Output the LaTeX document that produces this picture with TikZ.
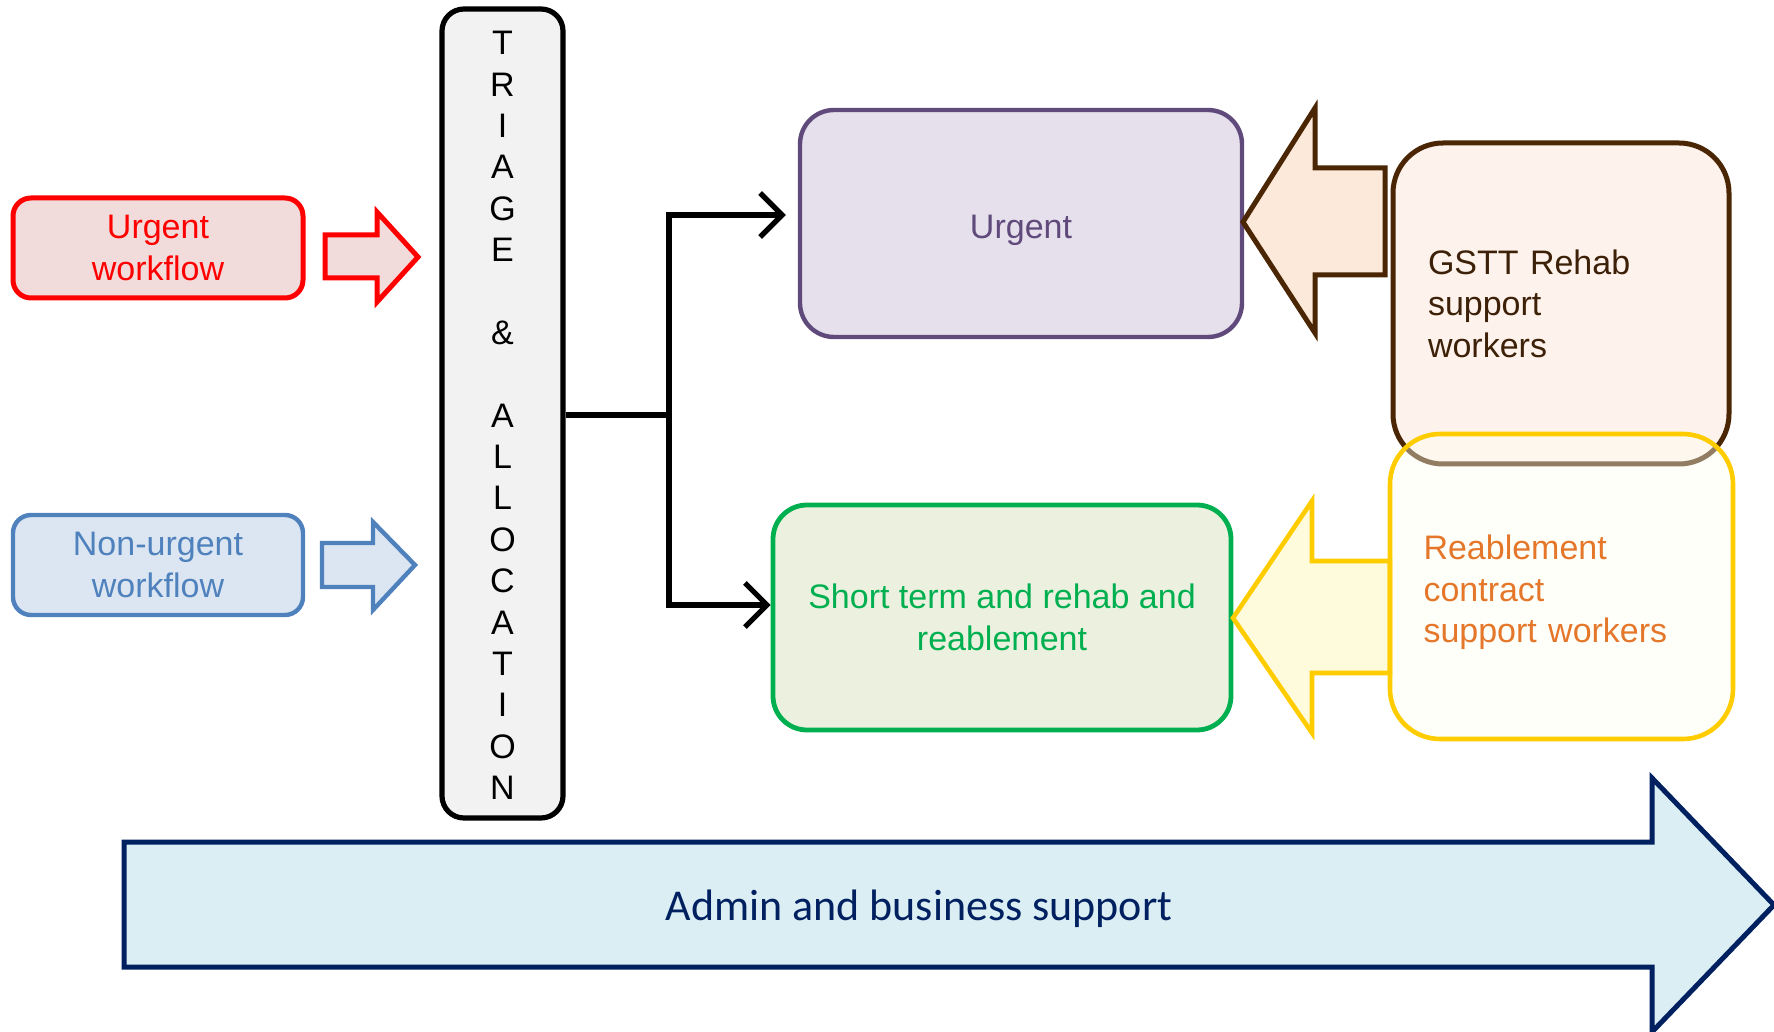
\documentclass[tikz,border=0pt]{standalone}
\usepackage{fontspec}
\setmainfont{Liberation Sans}
\newfontfamily\calibrifont{Carlito}
\usetikzlibrary{arrows.meta}

\definecolor{urgred}{HTML}{FF0000}
\definecolor{urgredfill}{HTML}{F2DCDB}
\definecolor{nonblue}{HTML}{4F81BD}
\definecolor{nonbluefill}{HTML}{DCE6F2}
\definecolor{triagefill}{HTML}{F2F2F2}
\definecolor{purp}{HTML}{604A7B}
\definecolor{purpfill}{HTML}{E5E0EC}
\definecolor{grn}{HTML}{00B050}
\definecolor{grnfill}{HTML}{EBF1DE}
\definecolor{brn}{HTML}{4A2604}
\definecolor{brntext}{HTML}{3D2008}
\definecolor{brnarrowfill}{HTML}{FDE9D9}
\definecolor{brnboxfill}{HTML}{FDF3EC}
\definecolor{yel}{HTML}{FFCC00}
\definecolor{yelarrowfill}{HTML}{FDFBDC}
\definecolor{yelboxfill}{HTML}{FFFEF0}
\definecolor{orng}{HTML}{E4772A}
\definecolor{navy}{HTML}{002060}
\definecolor{adminfill}{HTML}{DBEEF4}

\begin{document}
\begin{tikzpicture}[x=0.5pt,y=-0.5pt,
  box/.style={draw, align=center, inner sep=0pt,
    font=\fontsize{17}{20.7}\selectfont},
  txt/.style={align=center, inner sep=0pt, font=\fontsize{17}{20.7}\selectfont},
  blockarrow/.style={line width=2.2pt, miter limit=10},
  conn/.style={line width=2.8pt, -{Straight Barb[length=11pt,width=22pt,line width=2.6pt]}}
]
\useasboundingbox (0,0) rectangle (1774,1032);

% Incoming workflows
\node[box, draw=urgred, fill=urgredfill, text=urgred, line width=2.5pt,
  rounded corners=9pt, minimum width=145pt, minimum height=50pt]
  (uwf) at (158,248) {Urgent\\workflow};
\node[box, draw=nonblue, fill=nonbluefill, text=nonblue, line width=2.2pt,
  rounded corners=9pt, minimum width=145pt, minimum height=50pt]
  (nwf) at (158,565) {Non-urgent\\workflow};

% Block arrows into triage
\draw[blockarrow, draw=urgred, fill=urgredfill, line width=2.5pt]
  (325,235) -- (377,235) -- (377,212) -- (418,257) -- (377,302) -- (377,278) -- (325,278) -- cycle;
\draw[blockarrow, draw=nonblue, fill=nonbluefill]
  (322,543) -- (373,543) -- (373,522) -- (415,565) -- (373,610) -- (373,587) -- (322,587) -- cycle;

% Triage column
\node[box, draw=black, fill=triagefill, line width=2.6pt, rounded corners=11pt,
  minimum width=60.5pt, minimum height=404.5pt]
  (tri) at (502.5,413.5) {};
\node[txt] (tritext) at ([yshift=-1pt]tri.center)
  {T\\R\\I\\A\\G\\E\\\mbox{}\\\&\\\mbox{}\\A\\L\\L\\O\\C\\A\\T\\I\\O\\N};

% Destination boxes
\node[box, draw=purp, fill=purpfill, line width=2.2pt, rounded corners=17pt,
  minimum width=221pt, minimum height=113.5pt]
  (urg) at (1021,223.5) {};
\node[txt, text=purp] (urgtext) at ([yshift=-3.5pt]urg.center) {Urgent};
\node[box, draw=grn, fill=grnfill, text=grn, line width=2.4pt, rounded corners=17pt,
  minimum width=229pt, minimum height=112.5pt]
  (stb) at (1002,617.5) {Short term and rehab and\\reablement};

% Allocation connector
\coordinate (split) at (669,415);
\draw[line width=2.8pt] (tri.east |- split) -- (split);
\draw[conn] (split) |- ([xshift=-6pt,yshift=4.25pt]urg.west);
\draw[conn] (split) |- ([yshift=6.25pt]stb.west);

% Support worker arrows
\draw[blockarrow, draw=brn, fill=brnarrowfill, line width=2.5pt]
  (1385,168) -- (1315,168) -- (1315,108) -- (1243,222) -- (1315,333) -- (1315,275) -- (1385,275) -- cycle;
\draw[blockarrow, draw=yel, fill=yelarrowfill, line width=2.3pt]
  (1390,561) -- (1312,561) -- (1312,501) -- (1233,618) -- (1312,733) -- (1312,673) -- (1390,673) -- cycle;

% Support worker boxes
\node[box, draw=brn, fill=brnboxfill, line width=2.5pt, rounded corners=25pt,
  minimum width=168pt, minimum height=160.5pt]
  (gstt) at (1561,303.5) {};
\node[txt, align=left, text width=133pt, text=brntext] (gstttext) at (gstt.center)
  {GSTT Rehab\\support\\workers};
\node[box, draw=yel, fill=yelboxfill, fill opacity=0.4,
  line width=2.3pt, rounded corners=25pt,
  minimum width=171.5pt, minimum height=152.5pt]
  (reab) at (1561.5,586.5) {};
\node[txt, align=left, text width=138pt, text=orng] (reabtext) at ([yshift=-3pt]reab.center)
  {Reablement\\contract\\support workers};

% Admin and business support band
\draw[line width=2.5pt, draw=navy, fill=adminfill, miter limit=10]
  (124,842) -- (1652,842) -- (1652,778) -- (1774,905) -- (1652,1032) -- (1652,967) -- (124,967) -- cycle;
\node[text=navy, font=\calibrifont\fontsize{22}{26}\selectfont] (admin) at (919,909)
  {Admin and business support};
\end{tikzpicture}
\end{document}
